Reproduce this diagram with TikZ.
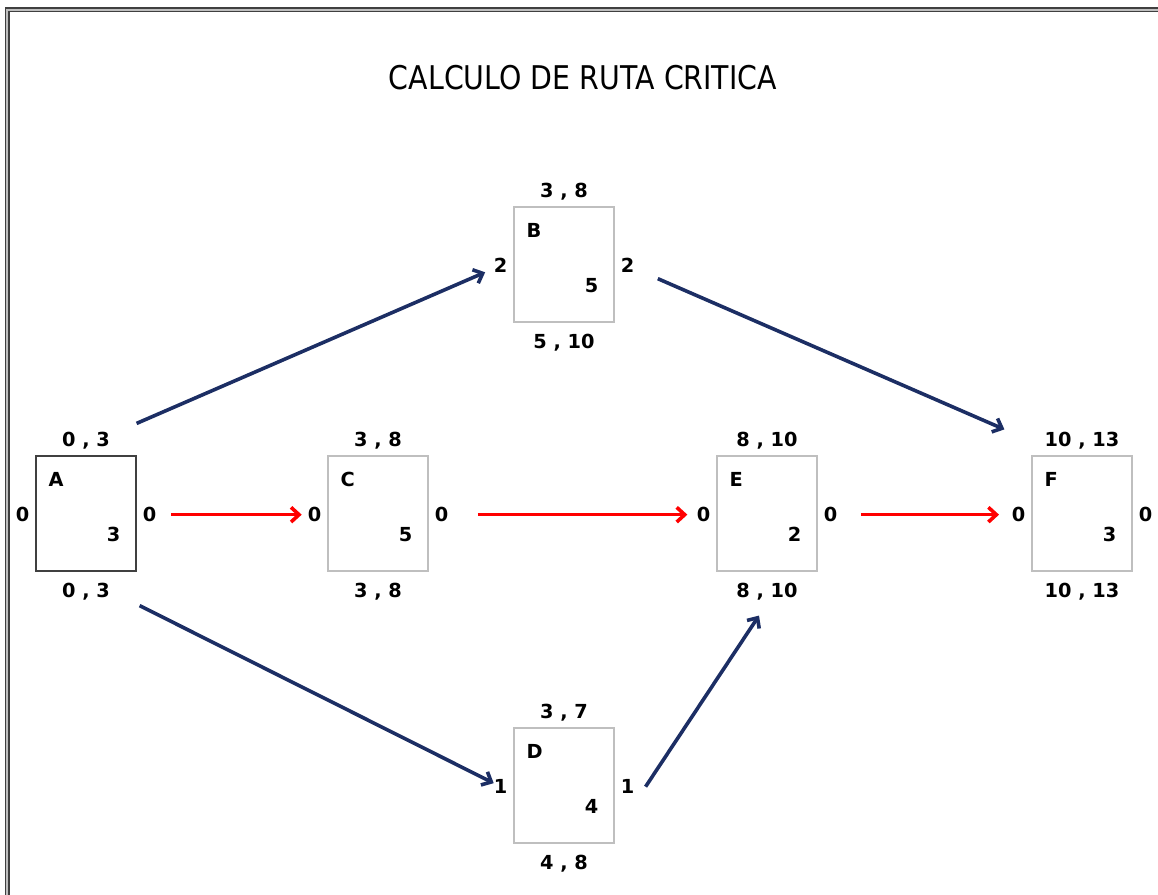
\documentclass[tikz,border=0pt]{standalone}
\usepackage{fontspec}
\setmainfont{DejaVu Sans}
\newfontfamily\titlefont[FakeStretch=0.87]{DejaVu Sans}
\usetikzlibrary{arrows.meta,positioning}
\definecolor{navyline}{RGB}{28,46,100}

\begin{document}
\begin{tikzpicture}[x=0.75pt, y=-0.75pt,
        taskbox/.style={draw=black!25, line width=0.9pt, minimum width=75pt, minimum height=86.25pt, inner sep=0pt},
        tag/.style={font=\fontsize{14.5}{17}\selectfont\bfseries, inner sep=0pt},
        link/.style={draw=navyline, line width=2.7pt, -{Straight Barb[length=6pt,width=11pt]}},
        crit/.style={link, draw=red}
    ]
    \useasboundingbox (0,0) rectangle (1158,894);
    % Marco
    \draw[black!75, double=gray!50, double distance=1.3pt, line width=1.1pt] (7.3,900) |- (1170,9.7);
    % Titulo
    \node[font=\titlefont\fontsize{24.5}{28}\selectfont, anchor=base] (titulo) at (583,89) {CALCULO DE RUTA CRITICA};
    % Actividades
    \node[taskbox, draw=black!75] (A) at (86,513.5) {};
    \node[taskbox] (B) at (564,264.5) {};
    \node[taskbox] (C) at (378,513.5) {};
    \node[taskbox] (D) at (564,785.5) {};
    \node[taskbox] (E) at (767,513.5) {};
    \node[taskbox] (F) at (1082,513.5) {};
    % Tiempos y holguras
    \foreach \tsk/\dur/\es/\lf/\slkl/\slkr in {A/3/{0 , 3}/{0 , 3}/0/0, B/5/{3 , 8}/{5 , 10}/2/2, C/5/{3 , 8}/{3 , 8}/0/0, D/4/{3 , 7}/{4 , 8}/1/1, E/2/{8 , 10}/{8 , 10}/0/0, F/3/{10 , 13}/{10 , 13}/0/0} {
        \node[tag, anchor=base west] (\tsk-n) at ([shift={(13,31)}]\tsk.north west) {\tsk};
        \node[tag, anchor=base east] (\tsk-d) at ([shift={(-16,-30.3)}]\tsk.south east) {\dur};
        \node[tag, anchor=base] (\tsk-t) at ([shift={(0,-9.3)}]\tsk.north) {\es};
        \node[tag, anchor=base] (\tsk-b) at ([shift={(0,25.7)}]\tsk.south) {\lf};
        \node[tag, anchor=base] (\tsk-l) at ([shift={(-12.7,8.2)}]\tsk.west) {\slkl};
        \node[tag, anchor=base] (\tsk-r) at ([shift={(13,8.2)}]\tsk.east) {\slkr};
    }
    % Conexiones
    \draw[link, shorten >=7pt] ([shift={(0,-32)}]A.north east) -- (B-l);
    \draw[link, shorten <=19pt] (B-r) -- ([shift={(-27,-26)}]F.north west);
    \draw[link] ([shift={(3,34)}]A.south east) -- (D-l);
    \draw[link] ([shift={(11,0)}]D-r.east) -- ([shift={(-8,44)}]E.south);
    % Ruta critica
    \draw[crit, shorten <=11pt, shorten >=4.5pt] (A-r) -- (C-l);
    \draw[crit, shorten <=22pt, shorten >=7pt] (C-r) -- (E-l);
    \draw[crit, shorten <=17.5pt, shorten >=9.5pt] (E-r) -- (F-l);
\end{tikzpicture}
\end{document}
